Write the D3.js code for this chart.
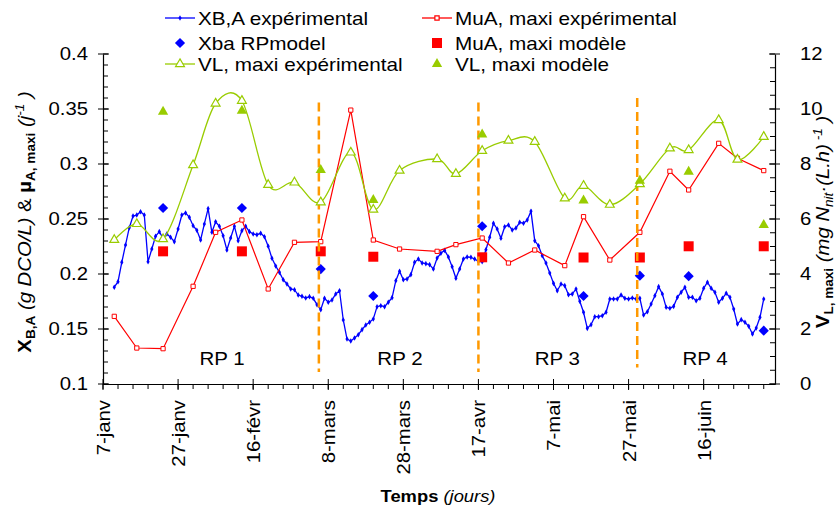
<!DOCTYPE html>
<html>
<head>
<meta charset="utf-8">
<script src="https://cdn.jsdelivr.net/npm/d3@7"></script>
<style>
  body { margin: 0; background: #fff; }
  text { font-family: "Liberation Sans", Arial, sans-serif; fill: #000; }
</style>
</head>
<body>
<svg width="838" height="508"></svg>
<script>
// days counted from 7-janv
var xTickDays   = [0, 20, 40, 60, 80, 100, 120, 140, 160];
var xTickLabels = ['7-janv','27-janv','16-févr','8-mars','28-mars','17-avr','7-mai','27-mai','16-juin'];
var leftTicks   = [0.1, 0.15, 0.2, 0.25, 0.3, 0.35, 0.4];
var rightTicks  = [0, 2, 4, 6, 8, 10, 12];

// XB,A experimental : one value per day, first one on day 3
var xbaStart = 3;
var xbaExp = [0.188,0.193,0.2106,0.2264,0.2421,0.2527,0.2536,0.2566,0.2536,0.2112,
  0.2227,0.2343,0.2385,0.2325,0.2364,0.2334,0.2294,0.2409,0.2536,0.2555,
  0.2515,0.2439,0.2397,0.2309,0.2455,0.2594,0.2379,0.2475,0.2434,0.2348,
  0.2218,0.2327,0.2434,0.2303,0.2394,0.2434,0.2385,0.2364,0.2357,0.237,
  0.2339,0.2252,0.2143,0.2073,0.2015,0.1948,0.1909,0.1864,0.1857,0.1809,
  0.1797,0.1782,0.1794,0.1779,0.1721,0.1676,0.1779,0.1743,0.1764,0.1818,
  0.1848,0.1582,0.1409,0.1391,0.1418,0.1448,0.1494,0.1536,0.1561,0.1591,
  0.1703,0.1712,0.1703,0.1743,0.1785,0.1939,0.2025,0.1948,0.1955,0.1994,
  0.2106,0.2136,0.21,0.2094,0.2085,0.2045,0.2145,0.2188,0.2215,0.2155,
  0.2066,0.1961,0.2045,0.2136,0.2155,0.2152,0.2136,0.2115,0.2112,0.2221,
  0.2334,0.2461,0.2409,0.2325,0.243,0.2445,0.24,0.2418,0.247,0.2461,
  0.2491,0.257,0.2303,0.2257,0.2166,0.21,0.2009,0.1915,0.1848,0.1909,
  0.1894,0.1812,0.1818,0.1864,0.1752,0.1652,0.1506,0.1539,0.1612,0.1612,
  0.1621,0.1652,0.1773,0.1773,0.1773,0.1809,0.1779,0.1773,0.1782,0.1773,
  0.1779,0.1627,0.1657,0.1727,0.1803,0.1885,0.1818,0.1697,0.1688,0.1706,
  0.1788,0.1834,0.1879,0.1788,0.1788,0.1757,0.1779,0.187,0.1925,0.187,
  0.1834,0.1743,0.1779,0.1825,0.1788,0.1682,0.1545,0.1585,0.1561,0.1525,
  0.1455,0.1509,0.1606,0.1773];

// MuA and VL experimental share the sampling days
var expDays = [3,9,16,24,30,37,44,51,58,66,72,79,89,94,101,108,115,123,128,135,143,151,156,164,169,176];
var muaExp  = [0.1615,0.1327,0.1321,0.1888,0.2379,0.2491,0.1864,0.2288,0.2294,0.349,0.2309,0.2227,0.2206,
               0.2267,0.2327,0.21,0.2218,0.2076,0.2521,0.2127,0.2379,0.2934,0.2764,0.3188,0.3052,0.294];
var vlExp   = [5.24,5.82,5.27,7.96,10.2,10.3,7.24,7.33,6.61,8.42,6.34,7.76,8.18,
               7.64,8.48,8.85,8.81,6.75,7.21,6.52,7.27,8.57,8.51,9.6,8.16,8.99];

// model points
var modelDays = [16,37,58,72,101,128,143,156,176];
var xbaModel  = [0.26,0.26,0.2045,0.18,0.2434,0.18,0.1985,0.198,0.1485];
var muaModel  = [0.2206,0.2206,0.2206,0.2157,0.2152,0.215,0.215,0.2252,0.2252];
var vlModel   = [9.9,9.94,7.78,6.69,9.07,6.67,7.39,7.72,5.78];

// RP period boundaries and labels
var rpBoundDays = [57.5, 100, 142.3];
var rpTop       = [0.356, 0.356, 0.36];
var rpBottom    = [0.111, 0.111, 0.115];
var rpLabels    = ['RP 1','RP 2','RP 3','RP 4'];
var rpLabelDays = [31.7, 79.1, 121, 160.4];

var BLUE = '#0000ff', RED = '#ff0000', GREEN = '#99cc00', ORANGE = '#ff9900';
var SX = 1.13;   // text in the picture is a bit wider than Arial

var svg = d3.select('svg');

var x  = d3.scaleLinear().domain([0, 179]).range([103, 775]);
var yL = d3.scaleLinear().domain([0.1, 0.4]).range([384, 54]);
var yR = d3.scaleLinear().domain([0, 12]).range([384, 54]);

// ---------- axes ----------
var gL = svg.append('g').attr('transform', `translate(${x(0)},0)`)
  .call(d3.axisLeft(yL).tickValues(leftTicks).tickSize(0).tickSizeOuter(0)
        .tickFormat(d => String(+d.toFixed(2))));
var gR = svg.append('g').attr('transform', `translate(${x(179)},0)`)
  .call(d3.axisRight(yR).tickValues(rightTicks).tickSize(0).tickSizeOuter(0));
var gB = svg.append('g').attr('transform', `translate(0,${yL(0.1)})`)
  .call(d3.axisBottom(x).tickValues(xTickDays).tickSize(0).tickSizeOuter(0)
        .tickFormat((d, i) => xTickLabels[i]));

[gL, gR, gB].forEach(function (a) {
  a.attr('font-size', 18).attr('font-family', null);
  a.select('.domain').attr('stroke', '#000').attr('stroke-width', 1.2);
});
gL.selectAll('.tick text').attr('x', -15 / SX).attr('transform', `scale(${SX},1)`);
gR.selectAll('.tick text').attr('x', 25 / SX).attr('transform', `scale(${SX},1)`);
gB.selectAll('.tick text')
  .attr('text-anchor', 'end')
  .attr('x', -16 / SX).attr('y', 0).attr('dy', '.36em')
  .attr('transform', `rotate(-90) scale(${SX},1)`);

// tick marks: major cross the axis, minor ones short
function tickLines(sel, vals, x1, x2, y1, y2) {
  sel.selectAll(null).data(vals).enter().append('line')
    .attr('x1', x1).attr('x2', x2).attr('y1', y1).attr('y2', y2)
    .attr('stroke', '#000').attr('stroke-width', 1);
}
tickLines(gL, d3.range(0.1, 0.4001, 0.01), 0, 5, d => yL(d), d => yL(d));
tickLines(gL, leftTicks, -5, 6, d => yL(d), d => yL(d));
tickLines(gR, d3.range(0, 12.01, 0.5), -5, 0, d => yR(d), d => yR(d));
tickLines(gR, rightTicks, -6, 5, d => yR(d), d => yR(d));
tickLines(gB, d3.range(0, 179, 4), d => x(d), d => x(d), 0, 5);
tickLines(gB, xTickDays, d => x(d), d => x(d), -5, 6);

// ---------- series ----------
var plot = svg.append('g');

// XB,A experimental
var lineXba = d3.line().x((d, i) => x(xbaStart + i)).y(d => yL(d));
plot.append('path').datum(xbaExp).attr('d', lineXba)
  .attr('fill', 'none').attr('stroke', BLUE).attr('stroke-width', 1.3);
plot.selectAll(null).data(xbaExp).enter().append('path')
  .attr('d', d3.symbol(d3.symbolDiamond, 9))
  .attr('transform', (d, i) => `translate(${x(xbaStart + i)},${yL(d)})`)
  .attr('fill', BLUE);

// MuA experimental
var muaPts = expDays.map((d, i) => [d, muaExp[i]]);
plot.append('path').datum(muaPts)
  .attr('d', d3.line().x(d => x(d[0])).y(d => yL(d[1])))
  .attr('fill', 'none').attr('stroke', RED).attr('stroke-width', 1.2);
plot.selectAll(null).data(muaPts).enter().append('path')
  .attr('d', d3.symbol(d3.symbolSquare, 18))
  .attr('transform', d => `translate(${x(d[0])},${yL(d[1])})`)
  .attr('fill', '#fff').attr('stroke', RED).attr('stroke-width', 1);

// Xba model (big diamonds)
plot.selectAll(null).data(modelDays).enter().append('path')
  .attr('d', d3.symbol(d3.symbolSquare, 52))
  .attr('transform', (d, i) => `translate(${x(d)},${yL(xbaModel[i])}) rotate(45)`)
  .attr('fill', BLUE);

// MuA model (big squares)
plot.selectAll(null).data(modelDays).enter().append('path')
  .attr('d', d3.symbol(d3.symbolSquare, 100))
  .attr('transform', (d, i) => `translate(${x(d)},${yL(muaModel[i])})`)
  .attr('fill', RED);

// RP boundaries
plot.selectAll(null).data(rpBoundDays).enter().append('line')
  .attr('x1', d => x(d)).attr('x2', d => x(d))
  .attr('y1', (d, i) => yL(rpTop[i])).attr('y2', (d, i) => yL(rpBottom[i]))
  .attr('stroke', ORANGE).attr('stroke-width', 2.5).attr('stroke-dasharray', '9,5');

// VL experimental (smoothed, right axis)
var vlPts = expDays.map((d, i) => [d, vlExp[i]]);
plot.append('path').datum(vlPts)
  .attr('d', d3.line().curve(d3.curveCardinal.tension(0)).x(d => x(d[0])).y(d => yR(d[1])))
  .attr('fill', 'none').attr('stroke', GREEN).attr('stroke-width', 1.3);
plot.selectAll(null).data(vlPts).enter().append('path')
  .attr('d', d3.symbol(d3.symbolTriangle, 34))
  .attr('transform', d => `translate(${x(d[0])},${yR(d[1])})`)
  .attr('fill', '#fff').attr('stroke', GREEN).attr('stroke-width', 1.2);

// VL model (filled triangles)
plot.selectAll(null).data(modelDays).enter().append('path')
  .attr('d', d3.symbol(d3.symbolTriangle, 46))
  .attr('transform', (d, i) => `translate(${x(d)},${yR(vlModel[i])})`)
  .attr('fill', GREEN);

// RP labels
plot.selectAll(null).data(rpLabels).enter().append('text')
  .attr('transform', (d, i) => `translate(${x(rpLabelDays[i])},${yL(0.1175)}) scale(1.08,1)`)
  .attr('text-anchor', 'middle').attr('font-size', 19).text(d => d);

// ---------- axis titles ----------
var tl = svg.append('text')
  .attr('transform', `translate(31,222) rotate(-90) scale(${SX},1)`)
  .attr('text-anchor', 'middle').attr('font-size', 18);
tl.append('tspan').attr('font-weight', 'bold').text('X');
tl.append('tspan').attr('font-weight', 'bold').attr('font-size', 12).attr('dy', 4).text('B,A');
tl.append('tspan').attr('font-style', 'italic').attr('dy', -4).text(' (g DCO/L)');
tl.append('tspan').text('  & ');
tl.append('tspan').attr('font-weight', 'bold').text('µ');
tl.append('tspan').attr('font-weight', 'bold').attr('font-size', 12).attr('dy', 4).text('A, maxi');
tl.append('tspan').attr('font-style', 'italic').attr('dy', -4).text(' (j');
tl.append('tspan').attr('font-style', 'italic').attr('font-size', 12).attr('dy', -7).text('-1');
tl.append('tspan').attr('font-style', 'italic').attr('dy', 7).text(' )');

var tr = svg.append('text')
  .attr('transform', `translate(829,222) rotate(-90) scale(${SX},1)`)
  .attr('text-anchor', 'middle').attr('font-size', 18);
tr.append('tspan').attr('font-weight', 'bold').text('V');
tr.append('tspan').attr('font-weight', 'bold').attr('font-size', 12).attr('dy', 4).text('L, maxi');
tr.append('tspan').attr('font-style', 'italic').attr('dy', -4).text(' (mg N');
tr.append('tspan').attr('font-style', 'italic').attr('font-size', 12).attr('dy', 4).text('nit');
tr.append('tspan').attr('font-style', 'italic').attr('dy', -4).text('·(L.h)');
tr.append('tspan').attr('font-style', 'italic').attr('font-size', 12).attr('dy', -7).text(' -1');
tr.append('tspan').attr('font-style', 'italic').attr('dy', 7).text(' )');

var tb = svg.append('text')
  .attr('transform', `translate(438,502) scale(1.08,1)`)
  .attr('text-anchor', 'middle').attr('font-size', 17);
tb.append('tspan').attr('font-weight', 'bold').text('Temps ');
tb.append('tspan').attr('font-style', 'italic').text('(jours)');

// ---------- legend ----------
var legendItems = [
  { name: 'XB,A expérimental',      col: 0, row: 0, color: BLUE,  line: true,  sym: d3.symbolDiamond, size: 9,   open: false, rot: 0 },
  { name: 'MuA, maxi expérimental', col: 1, row: 0, color: RED,   line: true,  sym: d3.symbolSquare,  size: 18,  open: true,  rot: 0 },
  { name: 'Xba RPmodel',            col: 0, row: 1, color: BLUE,  line: false, sym: d3.symbolSquare,  size: 52,  open: false, rot: 45 },
  { name: 'MuA, maxi modèle',       col: 1, row: 1, color: RED,   line: false, sym: d3.symbolSquare,  size: 100, open: false, rot: 0 },
  { name: 'VL, maxi expérimental',  col: 0, row: 2, color: GREEN, line: true,  sym: d3.symbolTriangle, size: 34, open: true,  rot: 0 },
  { name: 'VL, maxi modèle',        col: 1, row: 2, color: GREEN, line: false, sym: d3.symbolTriangle, size: 46, open: false, rot: 0 }
];
var colX = [180, 437], rowY = [18, 43, 64];
var leg = svg.append('g');
legendItems.forEach(function (it) {
  var cx = colX[it.col], cy = rowY[it.row];
  if (it.line) {
    leg.append('line').attr('x1', cx - 15).attr('x2', cx + 15).attr('y1', cy).attr('y2', cy)
      .attr('stroke', it.color).attr('stroke-width', 1.3);
  }
  leg.append('path').attr('d', d3.symbol(it.sym, it.size))
    .attr('transform', `translate(${cx},${cy}) rotate(${it.rot})`)
    .attr('fill', it.open ? '#fff' : it.color)
    .attr('stroke', it.open ? it.color : 'none').attr('stroke-width', 1.2);
  leg.append('text')
    .attr('transform', `translate(${cx + 18},${cy + 6.5}) scale(1.15,1)`)
    .attr('font-size', 18).text(it.name);
});
</script>
</body>
</html>
